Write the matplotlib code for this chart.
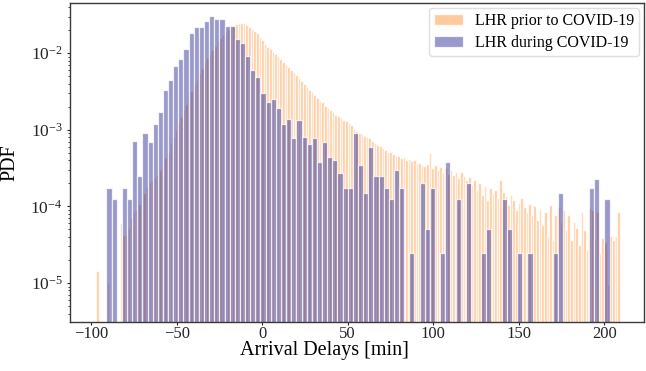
"""Arrival delay PDF at LHR before and during COVID-19 (log-scale histogram)."""

import matplotlib
matplotlib.use("Agg")
import matplotlib.pyplot as plt  # noqa: E402
import numpy as np  # noqa: E402
from matplotlib.colors import to_rgba  # noqa: E402

# ---- data ------------------------------------------------------------------
# prior to COVID-19: 200 bins of ~1.53 min between -97 and 209 min
PRIOR_RANGE = (-97.0, 209.0)
PRIOR_NBINS = 200
# PDF per bin, in units of 1e-4
PRIOR_PDF_E4 = [
    0.145, 0, 0, 0, 0.10, 0, 0, 0, 0, 0.6,
    0.42, 0.42, 0.52, 0.7, 0.85, 0.9, 1.07, 1.21, 1.5, 1.8,
    2.07, 2.2, 2.4, 2.6, 3.0, 3.5, 4.3, 5.1, 6.7, 8.0,
    9.9, 12.2, 14.6, 18, 21.7, 27.5, 32, 39, 44, 55,
    63, 76, 86, 97, 109, 123, 140, 157, 172, 188,
    206, 219, 232, 240, 246, 248, 246, 236, 219, 206,
    194, 182, 162, 148, 133, 120, 113, 103, 97, 91,
    84, 76, 70, 66, 60, 57, 52, 47, 43, 39,
    36, 33, 31, 28, 26, 24, 23, 20.5, 19.2, 18,
    17, 15.5, 15, 14.2, 13.4, 13, 12.2, 11.5, 10.2, 9.6,
    9.1, 8.8, 8.3, 8.0, 7.7, 7.1, 6.7, 6.3, 6.1, 5.8,
    5.4, 5.2, 5.1, 4.8, 4.5, 4.5, 4.3, 4.4, 4.0, 4.1,
    3.9, 4.0, 3.6, 3.7, 3.5, 3.4, 3.6, 4.9, 3.2, 3.5,
    3.0, 3.3, 2.8, 3.2, 2.65, 3.0, 2.57, 2.8, 2.35, 2.8,
    2.5, 2.2, 2.4, 1.9, 2.2, 1.63, 2.0, 1.41, 1.85, 1.21,
    1.75, 1.45, 1.63, 1.3, 2.2, 1.55, 1.38, 1.04, 1.41, 1.21,
    0.9, 1.12, 1.3, 0.98, 0.85, 1.07, 0.77, 1.0, 0.66, 0.9,
    0.57, 0.85, 0.41, 1.04, 0.36, 0.77, 0.98, 0.63, 0.9, 0.49,
    0.77, 0.36, 0.63, 0.52, 0.31, 0.85, 0.49, 0.27, 0.94, 0.9,
    0.36, 0.85, 0.25, 0.39, 0.34, 0.095, 0.41, 0.36, 0.41, 0.85,
]

# during COVID-19: 3 min bins starting at -91 min
DURING_START = -91.0
DURING_WIDTH = 3.0
DURING_PDF_E4 = [
    1.74, 1.25, 0, 1.74, 1.25, 7.1, 2.5, 9.0, 6.9, 12,
    17.2, 32.6, 44, 67, 85, 112, 182, 220, 216, 261,
    303, 275, 279, 226, 226, 151, 135, 92, 60, 49,
    30, 23, 25.5, 19, 12, 13.8, 7.8, 13.4, 8.0, 6.6,
    7.7, 3.8, 6.9, 4.4, 4.0, 2.75, 1.74, 1.74, 9.0, 3.5,
    1.5, 5.9, 2.5, 2.5, 1.74, 1.25, 3.0, 1.74, 0, 0.25,
    0, 2.0, 0.5, 1.74, 0, 0.25, 3.8, 0, 1.25, 0,
    2.0, 0, 0, 0.25, 0.5, 0, 0, 1.25, 0.5, 0,
    0.25, 0, 0.25, 0, 0, 0, 0, 0.25, 1.5, 0,
    0, 0, 0, 0, 1.74, 2.25, 0, 1.25,
]

LABELS = ["LHR prior to COVID-19", "LHR during COVID-19"]
COLOURS = ["#ff7f0e", "navy"]


def draw_hist(ax, edges, pdf_e4, colour, label, lw):
    pdf = np.asarray(pdf_e4, dtype=float) * 1e-4
    widths = np.diff(edges)
    keep = pdf > 0
    ax.bar(edges[:-1][keep], pdf[keep], width=widths[keep], align="edge",
           facecolor=to_rgba(colour, 0.4), edgecolor=(1, 1, 1, 0.75),
           linewidth=lw, label=label)


def main() -> None:
    plt.rcParams["font.family"] = "serif"
    plt.rcParams["font.serif"] = ["Liberation Serif", "DejaVu Serif"]
    plt.rcParams["mathtext.fontset"] = "stix"

    fig = plt.figure(figsize=(6.46, 3.71), dpi=100)
    ax = fig.add_axes([0.1076, 0.132, 0.89, 0.861])

    prior_edges = np.linspace(*PRIOR_RANGE, PRIOR_NBINS + 1)
    during_edges = DURING_START + DURING_WIDTH * np.arange(len(DURING_PDF_E4) + 1)

    draw_hist(ax, prior_edges, PRIOR_PDF_E4, COLOURS[0], LABELS[0], 1.0)
    draw_hist(ax, during_edges, DURING_PDF_E4, COLOURS[1], LABELS[1], 0.9)

    ax.set_yscale("log")
    ax.set_xlim(-112.6, 223.4)
    ax.set_ylim(3.1e-6, 4.56e-2)
    ax.set_xticks([-100, -50, 0, 50, 100, 150, 200])

    ax.set_xlabel("Arrival Delays [min]", fontsize=14.5)
    ax.xaxis.set_label_coords(0.444, -0.06, transform=ax.transAxes)
    ax.set_ylabel("PDF", fontsize=14.5)
    ax.yaxis.set_label_coords(-0.087, 0.5, transform=ax.transAxes)
    ax.tick_params(axis="both", which="major", labelsize=12, direction="out",
                   length=2.5, width=0.8, pad=0.3, colors="#262626")
    ax.tick_params(axis="y", which="minor", direction="out", length=1.8,
                   width=0.6, colors="#262626")
    ax.tick_params(axis="y", which="major", pad=2.5, labelsize=12.5)
    for sp in ax.spines.values():
        sp.set_color("#3a3a3a")
        sp.set_linewidth(1.0)

    leg = ax.legend(loc="upper right", fontsize=11.5, frameon=True,
                    handlelength=1.8, handletextpad=0.75, borderpad=0.3,
                    labelspacing=0.38, borderaxespad=0.35)
    leg.get_frame().set_edgecolor("#d8d8d8")

    fig.savefig("out.png", dpi=100)
    plt.close(fig)


if __name__ == "__main__":
    main()
